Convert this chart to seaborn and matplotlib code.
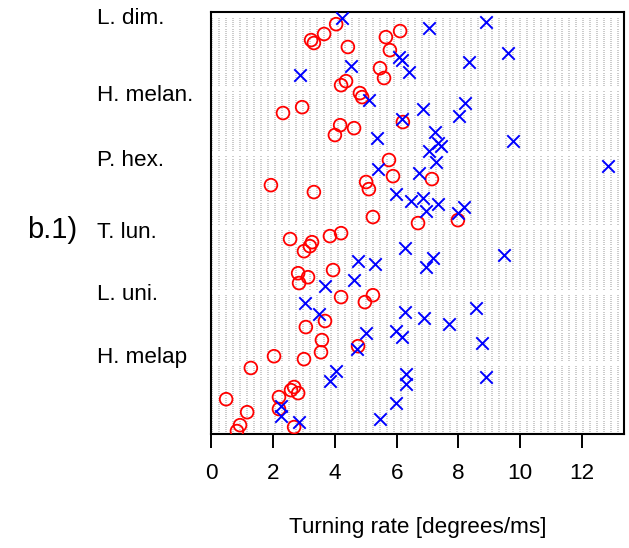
import numpy as np
import pandas as pd
import matplotlib
matplotlib.use("Agg")
import matplotlib.pyplot as plt
import seaborn as sns

# ---------------- data ----------------
group_names = ["L. dim.", "H. melan.", "P. hex.", "T. lun.", "L. uni.", "H. melap"]
group_sizes = [33, 29, 33, 29, 32, 32]      # rows (individuals) per group
group_gap = 2                                # empty rows between groups
label_rows = [-1.0, 35.8, 66.8, 101.1, 130.7, 160.8]

circle_value = [4.04, 3.65, 3.23, 3.32, 4.42, 5.65, 6.11, 5.78, 5.46, 5.59, 4.20, 4.36,
                4.81, 4.88, 2.32, 2.94, 4.17, 4.00, 4.62, 6.20,
                5.75, 5.88, 5.01, 5.10, 1.93, 3.32, 5.23, 6.69, 7.14, 7.98,
                2.55, 4.20, 3.84, 3.26, 3.19, 3.00, 3.94, 2.81, 3.13, 2.84,
                4.20, 5.23, 4.97, 3.68, 3.06, 3.58, 3.55, 4.75, 3.00, 2.03,
                1.28, 0.48, 1.16, 0.93, 0.83, 2.19, 2.68, 2.58, 2.81, 2.19, 2.68]
circle_row = [2.9, 7.6, 10.5, 11.9, 13.8, 9.1, 6.2, 15.3, 23.9, 28.6, 32.0, 30.1,
              35.8, 37.7, 45.3, 42.5, 51.1, 55.8, 52.5, 49.6,
              67.7, 75.4, 78.2, 81.6, 79.7, 83.0, 94.9, 97.8, 76.8, 96.4,
              105.4, 102.6, 104.0, 106.9, 108.8, 111.2, 120.2, 121.7, 123.6, 126.4,
              133.1, 132.2, 135.5, 144.5, 147.4, 153.6, 159.4, 156.5, 162.7, 161.3,
              166.9, 181.8, 188.0, 194.2, 197.0, 180.8, 176.0, 177.5, 178.9, 186.5, 195.1]

cross_value = [4.23, 8.89, 7.05, 9.60, 8.34, 6.07, 6.17, 6.40, 4.52, 2.87,
               5.10, 6.85, 8.21, 8.02, 6.17, 7.24, 7.34, 7.43, 7.05, 9.76, 5.36,
               7.27, 5.39, 6.72, 12.84, 5.98, 6.46, 6.85, 7.34, 6.95, 7.98, 8.18,
               6.27, 9.47, 7.17, 6.95, 4.75, 5.30, 4.62, 3.68,
               3.03, 3.49, 5.01, 5.98, 6.17, 6.27, 6.88, 7.69, 8.57, 8.76, 4.72,
               4.04, 3.84, 6.30, 6.30, 8.89, 5.98, 5.46, 2.26, 2.26, 2.84]
cross_row = [0.0, 1.9, 4.8, 16.7, 21.0, 18.6, 20.0, 25.8, 22.9, 27.2,
             39.1, 43.4, 40.6, 46.8, 48.2, 54.4, 59.6, 61.1, 63.5, 58.7, 57.3,
             68.7, 72.0, 74.0, 70.6, 84.0, 87.3, 85.9, 88.7, 92.1, 93.0, 90.2,
             109.7, 113.1, 114.5, 118.8, 115.9, 117.4, 125.0, 127.9,
             136.0, 141.2, 150.3, 149.3, 152.2, 140.3, 143.1, 146.0, 138.4, 155.1, 157.9,
             168.4, 173.2, 169.8, 174.6, 171.3, 183.7, 191.3, 185.1, 189.9, 192.7]

x_ticks = [0, 2, 4, 6, 8, 10, 12]
x_label = "Turning rate [degrees/ms]"
panel_label = "b.1)"

# ---------------- plot ----------------
sns.set_style("white")
plt.rcParams["font.family"] = ["Liberation Sans", "DejaVu Sans"]
plt.rcParams["text.color"] = "black"
plt.rcParams["axes.labelcolor"] = "black"
plt.rcParams["xtick.color"] = "black"
plt.rcParams["ytick.color"] = "black"

fig = plt.figure(figsize=(6.29, 5.48), dpi=100)
ax = fig.add_axes([211.3 / 629, 1 - 434 / 548, (623.5 - 211.3) / 629, (434 - 12) / 548])

xmax = 13.34
# guide rows (one dotted line per individual)
rows = []
start = 0
for n in group_sizes:
    rows.extend(range(start, start + n))
    start += n + group_gap
ax.hlines(rows, 0, xmax, colors="#9a9a9a", linestyles=(0, (1, 6)), linewidth=0.72, zorder=1)

circ = pd.DataFrame({"value": circle_value, "row": circle_row})
crs = pd.DataFrame({"value": cross_value, "row": cross_row})

sns.scatterplot(data=circ, x="value", y="row", marker="o", s=84,
                facecolors="none", edgecolor="#ff0000", linewidth=1.3, ax=ax, zorder=3)
sns.scatterplot(data=crs, x="value", y="row", marker="x", s=80,
                color="#0000ff", linewidth=1.4, ax=ax, zorder=3)

ax.set_xlim(0, xmax)
ax.set_ylim(198.4, -2.9)

for sp in ax.spines.values():
    sp.set_visible(True)
    sp.set_color("black")
    sp.set_linewidth(1.5)

ax.set_xticks(x_ticks)
ax.set_xticklabels([str(t) for t in x_ticks], fontsize=16.2, color="black")
ax.tick_params(axis="x", direction="out", length=10, width=1.4, pad=11, bottom=True,
               colors="black", labelcolor="black")

ax.set_yticks(label_rows)
ax.set_yticklabels(group_names, fontsize=16.2, ha="left", color="black")
ax.tick_params(axis="y", length=0, pad=82, labelcolor="black")

ax.set_xlabel(x_label, fontsize=16.2, labelpad=24, color="black")
ax.set_ylabel("")

fig.text(52 / 629, 1 - 230 / 548, panel_label, fontsize=21, ha="center", va="center",
         color="black")

fig.savefig("out.png", dpi=100)
